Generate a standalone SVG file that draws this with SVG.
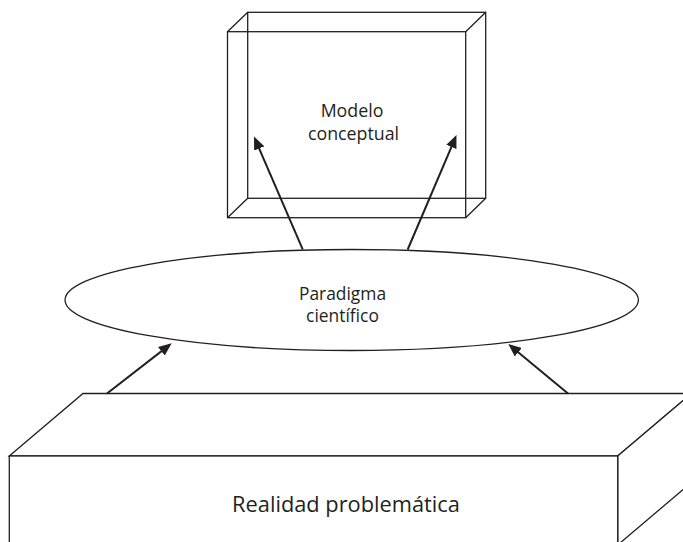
<svg xmlns="http://www.w3.org/2000/svg" width="683" height="542" viewBox="0 0 683 542">
  <defs>
    <style>
      .edge { fill: none; stroke: #231f20; stroke-width: 1.3; stroke-linejoin: miter; }
      .face { fill: #ffffff; stroke: #231f20; stroke-width: 1.3; stroke-linejoin: miter; }
      .arrow { fill: none; stroke: #231f20; stroke-width: 2; marker-end: url(#head); }
      .label { font-family: "Open Sans", "Noto Sans", sans-serif; fill: #231f20; text-anchor: middle; }
    </style>
    <marker id="head" markerUnits="userSpaceOnUse" viewBox="0 0 13 11" markerWidth="13" markerHeight="11" refX="10" refY="5.5" orient="auto">
      <path d="M0,0 L13,5.5 L0,11 z" fill="#231f20"/>
    </marker>
  </defs>
  <rect width="683" height="542" fill="#ffffff"/>

  <!-- Base block: solid box running off the lower right edge -->
  <g id="realidad">
    <path class="face" d="M9.3,456 L83,393.5 L691.4,393.5 L617.7,456 Z"/>
    <path class="face" d="M617.7,456 L691.4,393.5 L691.4,482.5 L617.7,545 Z"/>
    <rect class="face" x="9.3" y="456" width="608.4" height="89"/>
    <text class="label" x="346" y="511.5" font-size="21.8">Realidad problemática</text>
  </g>

  <!-- Middle layer: ellipse -->
  <g id="paradigma">
    <ellipse class="face" cx="351.7" cy="300" rx="286.7" ry="50.5"/>
    <text class="label" x="342.5" y="300" font-size="17.4">Paradigma</text>
    <text class="label" x="342.5" y="321.7" font-size="17.4">científico</text>
  </g>

  <!-- Top layer: transparent wireframe box -->
  <g id="modelo">
    <rect class="edge" x="247.7" y="12.3" width="238" height="186"/>
    <rect class="edge" x="227.5" y="31.7" width="238.2" height="186"/>
    <path class="edge" d="M227.5,31.7 L247.7,12.3 M465.7,31.7 L485.7,12.3 M227.5,217.7 L247.7,198.3 M465.7,217.7 L485.7,198.3"/>
    <text class="label" x="352" y="116.7" font-size="17.8">Modelo</text>
    <text class="label" x="353.5" y="140" font-size="17.8">conceptual</text>
  </g>

  <!-- Connectors -->
  <g id="connectors">
    <path class="arrow" d="M302.7,249.3 L255.2,139.3"/>
    <path class="arrow" d="M407.7,249.5 L455.3,137.8"/>
    <path class="arrow" d="M107,393.5 L169.3,345.1"/>
    <path class="arrow" d="M568,393.5 L510.6,345.9"/>
  </g>
</svg>
